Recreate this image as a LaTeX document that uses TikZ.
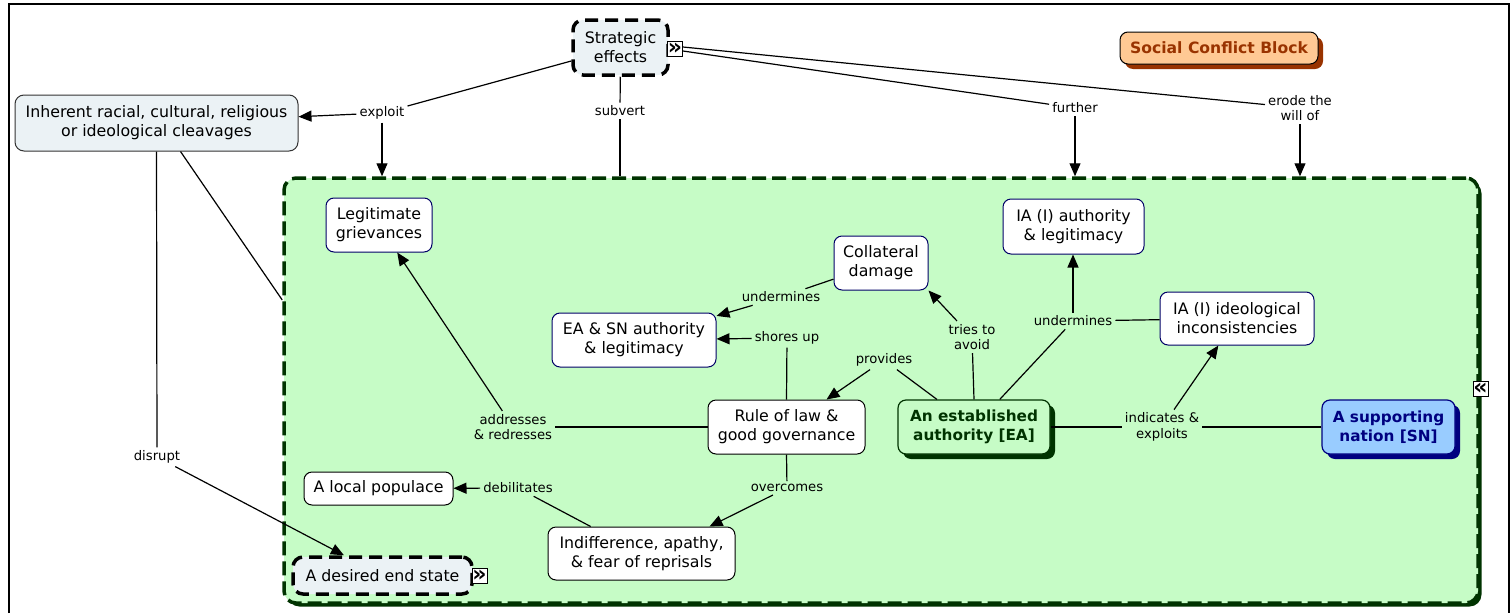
\documentclass[tikz,border=0pt]{standalone}
\usepackage{fontspec}
\setmainfont{DejaVu Sans}
\usetikzlibrary{arrows.meta,shadows,calc}
\definecolor{boxgray}{HTML}{EBF2F5}
\definecolor{contfill}{HTML}{C6FCC6}
\definecolor{dkgreen}{HTML}{003300}
\definecolor{navyb}{HTML}{000066}
\definecolor{snfill}{HTML}{99CCFF}
\definecolor{snshadow}{HTML}{000080}
\definecolor{scbfill}{HTML}{FFC994}
\definecolor{scbbrown}{HTML}{993300}
\begin{document}
\begin{tikzpicture}[x=1pt,y=-1pt,
  txt/.style={font=\fontsize{15.8}{19}\selectfont, align=center, inner sep=0pt},
  conc/.style={txt, draw=navyb, line width=1pt, fill=white, rounded corners=8pt},
  graybox/.style={txt, draw=black!80, line width=1pt, fill=boxgray, rounded corners=9pt},
  dashbox/.style={txt, draw=black, line width=3.5pt, dash pattern=on 13pt off 7pt, fill=boxgray, rounded corners=10pt},
  boldtxt/.style={txt, font=\fontsize{15.3}{19}\selectfont\bfseries},
  lbl/.style={font=\fontsize{13.2}{15.5}\selectfont, align=center, inner sep=3pt},
  link/.style={line width=1.2pt, black},
  arr/.style={link, -{Triangle[length=13pt,width=11pt]}},
  icon/.style={draw=black, fill=white, line width=0.8pt, minimum width=15pt, minimum height=15pt, text width=15pt, text height=11pt, text depth=0pt, align=center, inner sep=0pt, font=\fontsize{22}{22}\selectfont\bfseries},
]
\useasboundingbox (0,0) rectangle (1511,613);
\fill[white] (0,0) rectangle (1511,613);
% outer frame
\draw[line width=2pt] (9,613) -- (9,4) -- (1509,4) -- (1509,613);

% container
\node[draw=dkgreen, dash pattern=on 14pt off 6pt, line width=3.5pt, fill=contfill,
  rounded corners=12pt, minimum width=1194pt, minimum height=425pt, inner sep=0pt,
  drop shadow={shadow xshift=3.5pt, shadow yshift=-3.5pt, fill=dkgreen, opacity=1}] (cont) at (881,390.5) {};

% top nodes
\node[dashbox, minimum width=95pt, minimum height=55pt] (strat) at (620.5,47.5) {Strategic\\effects};
\node[icon] (stratIcon) at (675,49) {»};
\node[boldtxt, font=\fontsize{15.6}{18}\selectfont\bfseries, text=scbbrown, draw=black, line width=1pt, fill=scbfill,
  rounded corners=8pt, minimum width=198pt, minimum height=32pt,
  drop shadow={shadow xshift=5pt, shadow yshift=-5pt, fill=scbbrown, opacity=1}] (scb) at (1219,48) {Social Conflict Block};
\node[graybox, minimum width=283pt, minimum height=56pt] (inh) at (156.5,123) {Inherent racial, cultural, religious\\or ideological cleavages};

% concepts inside container
\node[conc, minimum width=106pt, minimum height=54pt] (legit) at (379,225) {Legitimate\\grievances};
\node[conc, minimum width=94pt, minimum height=54pt] (coll) at (881,263) {Collateral\\damage};
\node[conc, minimum width=141pt, minimum height=55pt] (iaauth) at (1073.5,226.5) {IA (I) authority\\\& legitimacy};
\node[conc, minimum width=164pt, minimum height=54pt] (easn) at (634,340) {EA \& SN authority\\\& legitimacy};
\node[conc, minimum width=154pt, minimum height=53pt] (iaideo) at (1237,318.5) {IA (I) ideological\\inconsistencies};
\node[conc, draw=black, minimum width=157pt, minimum height=54pt] (rol) at (786.5,427) {Rule of law \&\\good governance};
\node[boldtxt, text=dkgreen, draw=dkgreen, line width=1.2pt, fill=contfill,
  rounded corners=8pt, minimum width=152pt, minimum height=54pt,
  drop shadow={shadow xshift=5pt, shadow yshift=-5pt, fill=dkgreen, opacity=1}] (ea) at (974,427) {An established\\authority [EA]};
\node[boldtxt, text=snshadow, draw=snshadow, line width=1.2pt, fill=snfill,
  rounded corners=8pt, minimum width=133pt, minimum height=54pt,
  drop shadow={shadow xshift=5pt, shadow yshift=-5pt, fill=snshadow, opacity=1}] (sn) at (1388.5,427) {A supporting\\nation [SN]};
\node[conc, draw=black, minimum width=149pt, minimum height=33pt] (local) at (378.5,488.5) {A local populace};
\node[conc, draw=black, minimum width=187pt, minimum height=53pt] (indif) at (641.5,553.5) {Indifference, apathy,\\\& fear of reprisals};
\node[dashbox, minimum width=179pt, minimum height=37pt] (des) at (382.5,575.5) {A desired end state};
\node[icon] (desIcon) at (479.5,576) {»};
\node[icon] (contIcon) at (1480.5,389) {«};

% labels
\node[lbl] (exploit) at (382,113) {exploit};
\node[lbl] (subvert) at (620,111) {subvert};
\node[lbl] (further) at (1075,108) {further};
\node[lbl] (erode) at (1300,108) {erode the\\will of};
\node[lbl] (disrupt) at (157,457) {disrupt};
\node[lbl] (addr) at (513,427) {addresses\\\& redresses};
\node[lbl] (shores) at (787,338) {shores up};
\node[lbl] (undA) at (781,297) {undermines};
\node[lbl] (tries) at (972,337) {tries to\\avoid};
\node[lbl] (prov) at (884,360) {provides};
\node[lbl] (undB) at (1073,321) {undermines};
\node[lbl] (indic) at (1162,427) {indicates \&\\exploits};
\node[lbl] (over) at (787,488) {overcomes};
\node[lbl] (debil) at (518,488) {debilitates};

% connectors
\draw[link] (strat) -- (exploit);
\draw[arr] (exploit) -- (inh);
\draw[arr] (exploit) -- (exploit |- cont.north);
\draw[link] (strat) -- (subvert);
\draw[link] (subvert) -- (subvert |- cont.north);
\draw[link] ([yshift=-2pt]stratIcon.east) -- (further);
\draw[arr] (further) -- (further |- cont.north);
\draw[link] ([yshift=2pt]stratIcon.east) -- (erode);
\draw[arr] (erode) -- (erode |- cont.north);
\draw[link] (inh.south) -- (disrupt);
\draw[arr] (disrupt) -- (des);
\coordinate (contL) at (cont.west |- 0,300);
\draw[link] ([xshift=24pt]inh.south) -- (contL);
\draw[link] (rol) -- (addr);
\draw[arr] (addr) -- (legit);
\draw[link] (rol.north) -- (shores);
\draw[arr] (shores) -- (easn);
\draw[link] (coll) -- (undA);
\draw[arr] (undA) -- (easn);
\draw[link] (ea.north) -- (tries);
\draw[arr] (tries) -- (coll.south east);
\draw[link] (ea) -- (prov);
\draw[arr] (prov) -- (rol);
\draw[link] (ea) -- (undB);
\draw[arr] (undB) -- (undB |- iaauth.south);
\draw[link] (iaideo) -- (undB);
\draw[link] (ea) -- (indic);
\draw[link] (sn) -- (indic);
\draw[arr] (indic) -- (iaideo);
\draw[link] (rol.south) -- (over);
\draw[arr] (over) -- ([xshift=68pt]indif.north);
\draw[link] (indif) -- (debil);
\draw[arr] (debil) -- (local);
\end{tikzpicture}
\end{document}
